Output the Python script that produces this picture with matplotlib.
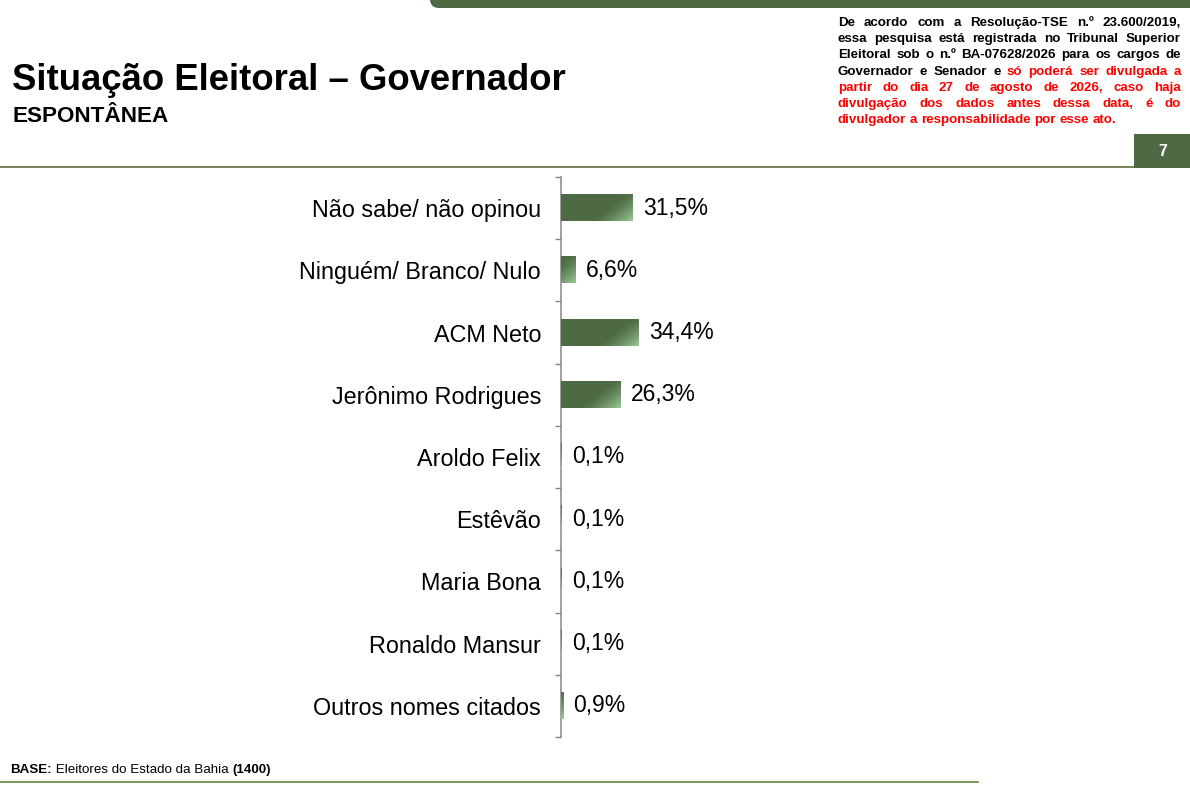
import numpy as np
import matplotlib
matplotlib.use('Agg')
import matplotlib.pyplot as plt
from matplotlib.patches import Rectangle, FancyBboxPatch
from matplotlib.lines import Line2D
from matplotlib.transforms import Affine2D

plt.rcParams['font.family'] = ['Liberation Sans', 'DejaVu Sans']

# Dados
categorias = ['Não sabe/ não opinou', 'Ninguém/ Branco/ Nulo', 'ACM Neto',
              'Jerônimo Rodrigues', 'Aroldo Felix', 'Estêvão', 'Maria Bona',
              'Ronaldo Mansur', 'Outros nomes citados']
valores = [31.5, 6.6, 34.4, 26.3, 0.1, 0.1, 0.1, 0.1, 0.9]
rotulos = ['31,5%', '6,6%', '34,4%', '26,3%', '0,1%', '0,1%', '0,1%', '0,1%', '0,9%']

titulo = 'Situação Eleitoral – Governador'
subtitulo = 'ESPONTÂNEA'
pagina = '7'

aviso = [
    [('De acordo com a Resolução-TSE n.º 23.600/2019,', 'k')],
    [('essa pesquisa está registrada no Tribunal Superior', 'k')],
    [('Eleitoral sob o n.º BA-07628/2026 para os cargos de', 'k')],
    [('Governador e Senador e', 'k'), ('só poderá ser divulgada a', 'r')],
    [('partir do dia 27 de agosto de 2026, caso haja', 'r')],
    [('divulgação dos dados antes dessa data, é do', 'r')],
    [('divulgador a responsabilidade por esse ato.', 'r')],
]

verde = '#4D6A45'
verde_claro = np.array([0.62, 0.80, 0.60])
verde_escuro = np.array([0x4D, 0x6A, 0x45]) / 255
cinza = '#868686'
vermelho = '#FF0000'

W, H = 1190, 792
fig = plt.figure(figsize=(W / 100, H / 100), dpi=100)
px = Affine2D().scale(1, -1).translate(0, H)  # coordenadas em pixels, origem no topo

# Eixo do grafico
x0, x1, y0, y1 = 561, 900, 177, 737
ax = fig.add_axes([x0 / W, 1 - y1 / H, (x1 - x0) / W, (y1 - y0) / H])
escala = 2.26  # pixels por ponto percentual
xmax = (x1 - x0) / escala
altura = 0.42
pos = np.arange(len(categorias))

ax.barh(pos, valores, height=altura, color=verde, zorder=2)

# gradiente no canto inferior direito das barras
alt_px = altura * (y1 - y0) / len(categorias)
for p, v in zip(pos, valores):
    larg_px = v * escala
    nx = max(int(np.ceil(larg_px)) * 2, 2)
    ny = int(alt_px) * 2
    xs = (np.arange(nx) + 0.5) / nx * larg_px - larg_px
    ys = (np.arange(ny) + 0.5) / ny * alt_px - alt_px
    dx, dy = np.meshgrid(xs, ys)
    s = np.clip(1 + (dx + 1.3 * dy) / 42, 0, 1) ** 1.4
    img = verde_escuro * (1 - s[..., None]) + verde_claro * s[..., None]
    ax.imshow(img, extent=(0, v, p + altura / 2, p - altura / 2),
              aspect='auto', interpolation='bilinear', zorder=3)

for p, v, r in zip(pos, valores, rotulos):
    ax.annotate(r, (v, p), xytext=(7.5, 0), textcoords='offset points',
                va='center', ha='left', fontsize=16.5, color='black')

ax.set_xlim(0, xmax)
ax.set_ylim(len(categorias) - 0.5, -0.5)
ax.set_yticks(pos)
ax.set_yticklabels(categorias, fontsize=16.8)
ax.set_yticks(np.arange(-0.5, len(categorias), 1), minor=True)
ax.tick_params(axis='y', which='major', length=0, pad=14.4)
ax.tick_params(axis='y', which='minor', length=4.5, width=1.0, color=cinza)
ax.set_xticks([])
for lado in ['top', 'right', 'bottom']:
    ax.spines[lado].set_visible(False)
ax.spines['left'].set_color(cinza)
ax.spines['left'].set_linewidth(1.1)
ax.set_facecolor('none')

# Cabecalho
fig.patches.append(FancyBboxPatch((430, -20), 800, 28,
                                  boxstyle='round,pad=0,rounding_size=9',
                                  transform=px, facecolor=verde, edgecolor='none'))
fig.lines.append(Line2D([0, 1134], [167, 167], transform=px, color='#4F6228', lw=1.1))
fig.patches.append(Rectangle((1134, 134), 56, 34, transform=px,
                             facecolor=verde, edgecolor='none'))
fig.text(1163, 152, pagina, transform=px, color='white', fontsize=11.5,
         fontweight='bold', ha='center', va='center')

fig.text(12, 90, titulo, transform=px, fontsize=26.3, fontweight='bold',
         va='baseline', ha='left')
fig.text(12, 122, subtitulo, transform=px, fontsize=16.2, fontweight='bold',
         va='baseline', ha='left')

# Aviso justificado
renderer = fig.canvas.get_renderer()
esq, dir_ = 838, 1181
tam = 9.65
espaco = 0.278 * tam / 0.72
base = 26
for i, linha in enumerate(aviso):
    palavras = []
    for trecho, cor in linha:
        for w in trecho.split(' '):
            palavras.append((w, vermelho if cor == 'r' else 'black'))
    textos = []
    for w, cor in palavras:
        t = fig.text(0, base, w, transform=px, fontsize=tam, fontweight='bold',
                     color=cor, va='baseline', ha='left')
        textos.append(t)
    larguras = [t.get_window_extent(renderer).width for t in textos]
    if i < len(aviso) - 1:
        gap = (dir_ - esq - sum(larguras)) / (len(textos) - 1)
    else:
        gap = espaco
    x = esq
    for t, lw in zip(textos, larguras):
        t.set_x(x)
        x += lw + gap
    base += 16.2

# Rodape
x = 10
for trecho, peso in [('BASE:', 'bold'), (' Eleitores do Estado da Bahia ', 'normal'),
                     ('(1400)', 'bold')]:
    t = fig.text(x, 773, trecho, transform=px, fontsize=9.6, fontweight=peso,
                 va='baseline', ha='left')
    x += t.get_window_extent(renderer).width
fig.lines.append(Line2D([0, 978], [782, 782], transform=px, color='#4F7A28', lw=1.1))

fig.savefig('out.png', dpi=100)
